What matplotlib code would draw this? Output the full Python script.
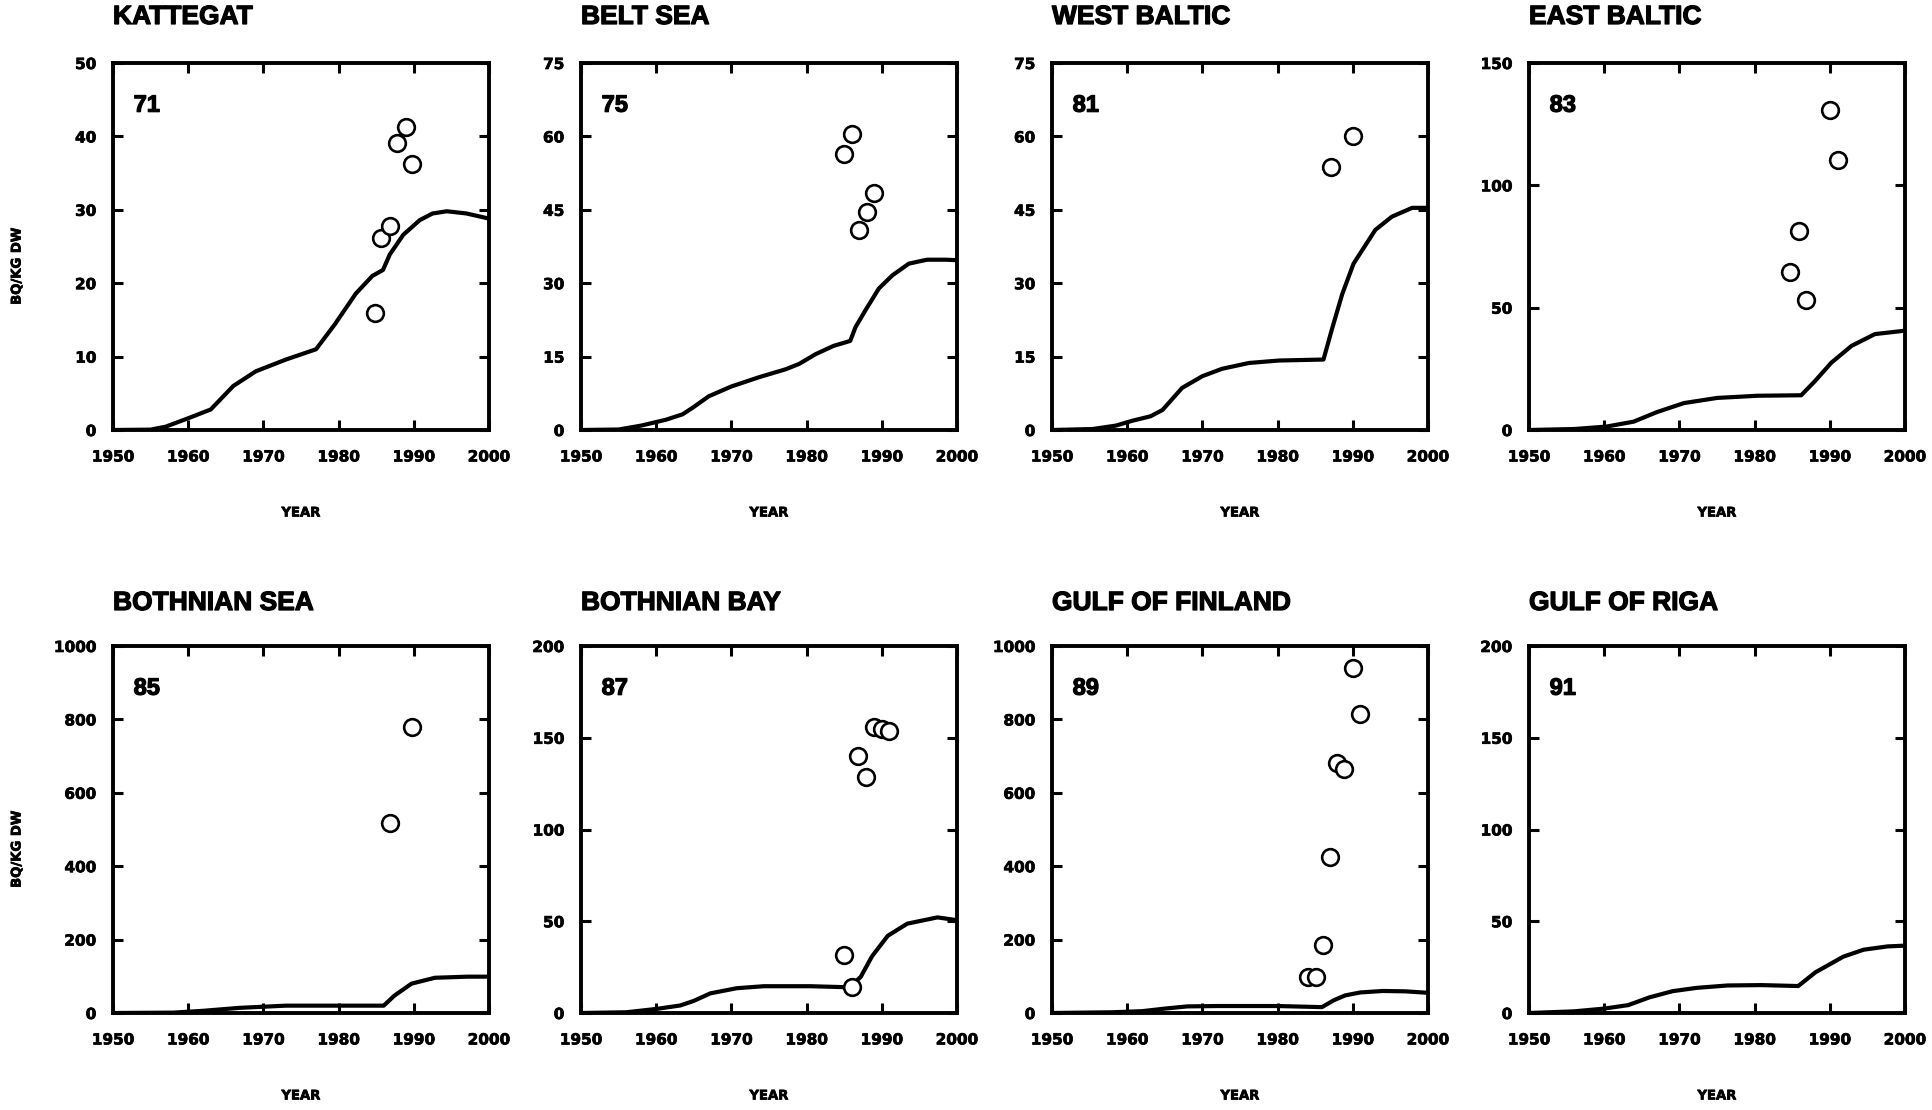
import matplotlib
matplotlib.use('agg')
import matplotlib.pyplot as plt
import matplotlib.patheffects as pe
import numpy as np

# Model curves (lines) and measured activity (open circles) per basin
names = ['KATTEGAT', 'BELT SEA', 'WEST BALTIC', 'EAST BALTIC',
         'BOTHNIAN SEA', 'BOTHNIAN BAY', 'GULF OF FINLAND', 'GULF OF RIGA']
numbers = ['71', '75', '81', '83', '85', '87', '89', '91']
ymax = [50, 75, 75, 150, 1000, 200, 1000, 200]
ystep = [10, 15, 15, 50, 200, 50, 200, 50]

kattegat_yr = [1950, 1955, 1957, 1960, 1963, 1966, 1969, 1973, 1977, 1979.5, 1982.3,
               1984.5, 1985.9, 1986.8, 1988.6, 1990.8, 1992.5, 1994.4, 1997, 2000]
kattegat_val = [0, 0.05, 0.45, 1.6, 2.8, 6.0, 8.0, 9.6, 11.0, 14.4, 18.6,
                21.0, 21.8, 23.9, 26.6, 28.6, 29.5, 29.8, 29.5, 28.8]
kattegat_obs_yr = [1984.9, 1985.7, 1986.8, 1987.8, 1989.0, 1989.8]
kattegat_obs = [16.0, 26.1, 27.8, 39.1, 41.3, 36.2]

belt_yr = [1950, 1955, 1958, 1961.3, 1963.5, 1964.8, 1967, 1970, 1973.7, 1977.2, 1979,
           1981.2, 1983.6, 1985.8, 1986.5, 1987.8, 1989.6, 1991.4, 1993.6, 1996, 1998.5, 2000]
belt_val = [0, 0.1, 0.9, 2.1, 3.2, 4.5, 6.9, 8.9, 10.8, 12.4, 13.5,
            15.5, 17.2, 18.2, 21.0, 24.4, 28.9, 31.6, 34.0, 34.8, 34.8, 34.7]
belt_obs_yr = [1985.0, 1986.1, 1987.0, 1988.0, 1989.0]
belt_obs = [56.4, 60.5, 40.9, 44.5, 48.5]

west_yr = [1950, 1955.4, 1958.5, 1960.7, 1963.1, 1964.7, 1967.3, 1970, 1972.6, 1976.2,
           1980.2, 1986.1, 1987.3, 1988.6, 1990.1, 1993, 1995.2, 1997.9, 2000]
west_val = [0, 0.2, 0.9, 1.9, 2.8, 4.1, 8.6, 11.0, 12.5, 13.7,
            14.2, 14.4, 21.0, 27.8, 34.0, 40.9, 43.6, 45.4, 45.4]
west_obs_yr = [1987.1, 1990.0]
west_obs = [53.7, 60.0]

east_yr = [1950, 1956, 1960.3, 1963.9, 1967, 1970.6, 1975, 1980.4, 1986.2, 1988,
           1990.2, 1992.9, 1996, 2000]
east_val = [0, 0.4, 1.4, 3.4, 7.3, 11.0, 13.1, 14.0, 14.2, 19.9, 27.5, 34.4, 39.2, 40.6]
east_obs_yr = [1984.7, 1985.9, 1986.9, 1990.0, 1991.1]
east_obs = [64.6, 81.4, 53.0, 130.7, 110.3]

bsea_yr = [1950, 1958, 1962, 1966.8, 1973, 1979.4, 1986, 1987.4, 1989.7, 1992.8, 1997.2, 2000]
bsea_val = [0, 1, 6, 14, 20, 20, 20, 47, 80, 96, 99, 99]
bsea_obs_yr = [1986.8, 1989.7]
bsea_obs = [518, 780]

bbay_yr = [1950, 1956, 1960, 1963.2, 1965, 1967.2, 1970.7, 1974.3, 1980.5, 1985.7,
           1987.2, 1988.7, 1990.8, 1993.4, 1997.4, 2000]
bbay_val = [0, 0.4, 2.2, 4.1, 6.6, 10.7, 13.5, 14.6, 14.6, 14.0,
            19.7, 30.9, 42.1, 48.7, 52.1, 50.6]
bbay_obs_yr = [1985.0, 1986.0, 1986.8, 1987.9, 1988.9, 1990.0, 1991.0]
bbay_obs = [31.5, 14.0, 140.0, 128.8, 155.8, 154.5, 153.5]

gof_yr = [1950, 1958, 1962, 1965, 1968, 1972, 1980, 1985.9, 1987.5, 1989, 1991, 1994, 1997, 2000]
gof_val = [0, 2, 5, 12, 18, 19, 19, 16, 35, 48, 56, 60, 59, 55]
gof_obs_yr = [1984.1, 1985.1, 1986.1, 1987.0, 1987.9, 1988.8, 1990.0, 1991.0]
gof_obs = [98, 98, 184, 424, 682, 665, 941, 815]

riga_yr = [1950, 1956, 1960, 1963.2, 1966, 1969.1, 1972.3, 1976.4, 1980.9, 1985.8,
           1988.1, 1991.8, 1994.5, 1997.7, 2000]
riga_val = [0, 0.9, 2.4, 4.3, 8.5, 11.9, 13.7, 15.0, 15.2, 14.7, 22.2, 30.7, 34.5, 36.3, 36.7]
riga_obs_yr = []
riga_obs = []

curves = [(kattegat_yr, kattegat_val), (belt_yr, belt_val), (west_yr, west_val),
          (east_yr, east_val), (bsea_yr, bsea_val), (bbay_yr, bbay_val),
          (gof_yr, gof_val), (riga_yr, riga_val)]
observed = [(kattegat_obs_yr, kattegat_obs), (belt_obs_yr, belt_obs), (west_obs_yr, west_obs),
            (east_obs_yr, east_obs), (bsea_obs_yr, bsea_obs), (bbay_obs_yr, bbay_obs),
            (gof_obs_yr, gof_obs), (riga_obs_yr, riga_obs)]

W, H = 1933, 1110
fig = plt.figure(figsize=(W / 100, H / 100), dpi=100)

lefts = [113, 581, 1052, 1529]
tops = [63, 646]
aw, ah = 376, 367
title_y = [17, 603]

tickfont = {'family': 'DejaVu Sans', 'weight': 'bold', 'size': 11}
heavy = [pe.withStroke(linewidth=0.9, foreground='black')]
heavy_small = [pe.withStroke(linewidth=0.5, foreground='black')]

for i in range(8):
    row, col = divmod(i, 4)
    x0 = lefts[col]
    y0 = tops[row]
    ax = fig.add_axes([x0 / W, 1 - (y0 + ah) / H, aw / W, ah / H])

    yr, val = curves[i]
    ax.plot(yr, val, color='black', lw=3.0, solid_capstyle='round', solid_joinstyle='round')
    oyr, oval = observed[i]
    if len(oyr):
        ax.plot(oyr, oval, 'o', ms=12, mfc='white', mec='black', mew=1.9, ls='none')

    ax.set_xlim(1950, 2000)
    ax.set_ylim(0, ymax[i])
    ax.set_xticks(np.arange(1950, 2001, 10))
    ax.set_yticks(np.arange(0, ymax[i] + 1, ystep[i]))
    ax.tick_params(direction='in', top=True, right=True, length=7, width=2.2)
    ax.tick_params(axis='x', pad=14)
    ax.tick_params(axis='y', pad=12)
    for lbl in ax.get_xticklabels() + ax.get_yticklabels():
        lbl.set_fontproperties(tickfont)
        lbl.set_path_effects(heavy_small)
    for sp in ax.spines.values():
        sp.set_linewidth(2.8)

    ax.text(0.055, 0.885, numbers[i], transform=ax.transAxes, ha='left', va='center',
            family='Liberation Sans', weight='bold', fontsize=17, path_effects=heavy)

    fig.text(x0 / W, 1 - title_y[row] / H, names[i], ha='left', va='center',
             family='Liberation Sans', weight='bold', fontsize=19, path_effects=heavy)

    fig.text((x0 + aw / 2) / W, 1 - (y0 + ah + 83) / H, 'YEAR', ha='center', va='center',
             family='DejaVu Sans', weight='bold', fontsize=9.5, path_effects=heavy_small)

    if col == 0:
        fig.text(17 / W, 1 - (y0 + 203) / H, 'BQ/KG DW', rotation=90, ha='center', va='center',
                 family='DejaVu Sans', weight='bold', fontsize=9.5, path_effects=heavy_small)

fig.savefig('out.png', dpi=100)
